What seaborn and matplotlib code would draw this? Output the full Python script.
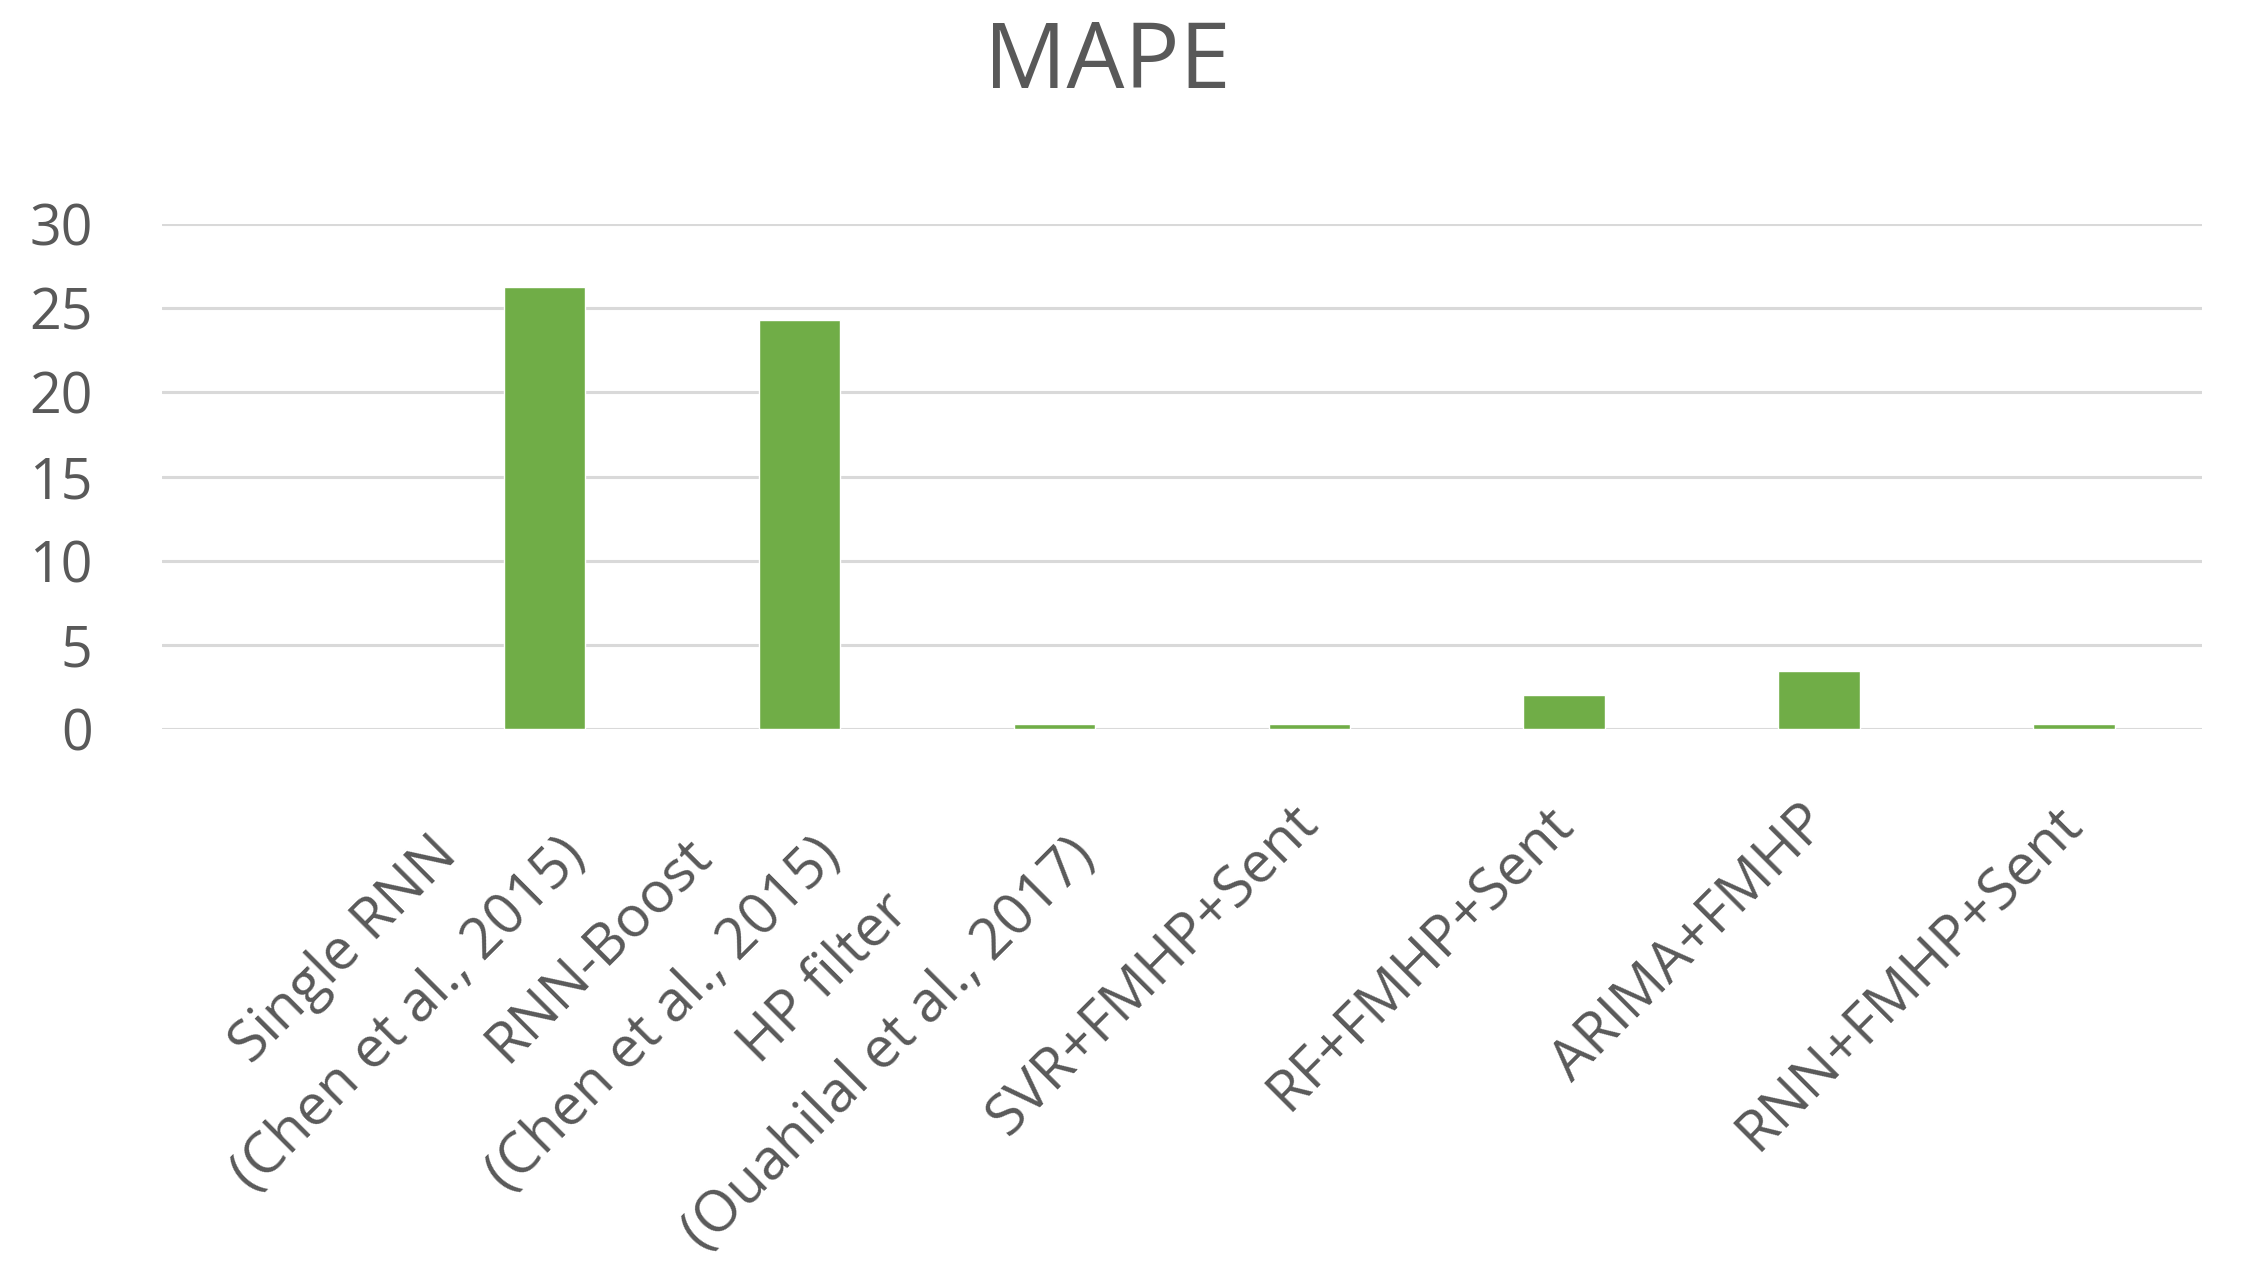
import numpy as np
import pandas as pd
import matplotlib
matplotlib.use("Agg")
import matplotlib.pyplot as plt
import seaborn as sns

# data (first slot is empty in the original chart)
models = ["",
          "Single RNN\n(Chen et al., 2015)",
          "RNN-Boost\n(Chen et al., 2015)",
          "HP filter\n(Ouahilal et al., 2017)",
          "SVR+FMHP+Sent",
          "RF+FMHP+Sent",
          "ARIMA+FMHP",
          "RNN+FMHP+Sent"]
mape = [np.nan, 26.25, 24.3, 0.3, 0.3, 2.0, 3.45, 0.3]
yticks = [0, 5, 10, 15, 20, 25, 30]

df = pd.DataFrame({"Model": models, "MAPE": mape})

sns.set_style("white")
plt.rcParams["font.family"] = ["Open Sans", "DejaVu Sans"]

fig = plt.figure(figsize=(22.42, 12.77), dpi=100)
ax = fig.add_axes([0.0723, 0.429, 0.9097, 0.3956])

sns.barplot(data=df, x="Model", y="MAPE", order=models, color="#70AD47",
            saturation=1, width=0.32, errorbar=None, ax=ax)

ax.set_ylim(0, 30)
ax.set_xlim(-0.5, len(models) - 0.5)
ax.set_yticks(yticks)
ax.yaxis.grid(True, color="#D9D9D9", linewidth=2.2)
ax.set_axisbelow(True)
for s in ax.spines.values():
    s.set_visible(False)
ax.set_xlabel("")
ax.set_ylabel("")

ax.tick_params(axis="y", length=0, pad=50, labelsize=40, labelcolor="#595959")
ax.tick_params(axis="x", length=0, pad=62, labelsize=41, labelcolor="#595959")
for lab in ax.get_xticklabels():
    lab.set_rotation(45)
    lab.set_ha("right")
    lab.set_va("center")
    lab.set_rotation_mode("anchor")
    lab.set_multialignment("center")
    lab.set_linespacing(1.8)

fig.text(0.494, 0.95, "MAPE", ha="center", va="center",
         fontsize=66, color="#595959")

fig.savefig("out.png", dpi=100, facecolor="white")
